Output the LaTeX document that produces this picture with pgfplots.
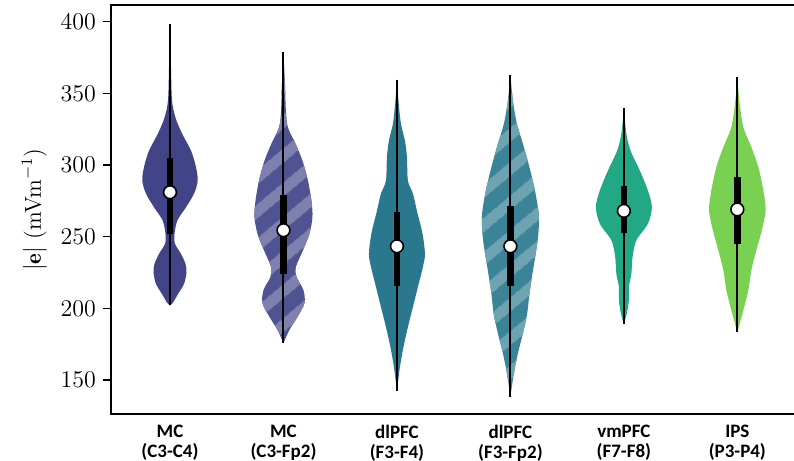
\documentclass[border=0pt]{standalone}
\usepackage{pgfplots}
\pgfplotsset{compat=1.18}
\usepackage{pgfplotstable}
\usetikzlibrary{patterns.meta}
\usepackage{fontspec}
\newfontfamily\carlito{Carlito}

\definecolor{vA}{HTML}{414487}
\definecolor{vB}{HTML}{2A788E}
\definecolor{vC}{HTML}{22A884}
\definecolor{vD}{HTML}{7AD151}

% half-widths w in pixels of the reference (113.46 px per category)
\pgfplotstableread{
y w
202 0
204 3
210 8
217 14
225 16.5
231 15.5
238 11
245 5
252 4.5
261.5 7.5
270.5 16
280 24
289 27.7
298.5 26
310 21
322 12
333 5.5
345 2
368 1
398 0
}\violinA
\pgfplotstableread{
y w
175.7 0
185 6
194 14
203.6 21
212.7 20
222 13
229 12.5
240.5 19.5
252 26
263.7 29
275 28
289 24.5
303 19
315 12
329 3.5
356.6 1.5
378.6 0
}\violinB
\pgfplotstableread{
y w
142.5 0
159 3
173 6.5
187 11
201 16
215 21
229 26
238 28
252.3 25.5
268 20
280 16
289 11
305.5 10
317 8
328.8 4
345 1.5
359.6 0
}\violinC
\pgfplotstableread{
y w
138.4 0
154.6 3.5
168.6 7.5
182.5 12.5
196 16.7
210 19
224 22
238 25.3
252 28
266 28.3
282.3 24.5
298.5 19
314.8 12.5
328.8 6.5
345 2.5
363 0
}\violinD
\pgfplotstableread{
y w
189 0
196.5 3
205.7 5
215 5
224 7.5
236 8.7
247.5 12.5
259 24
270.7 28
282.3 24
296 16
310 6.7
321.8 2.5
339.6 0
}\violinE
\pgfplotstableread{
y w
183.2 0
198.7 6
212.7 11
226.6 14
240.5 19
254.5 24.5
268.4 28.3
282.3 26
298.5 21
312.5 14
326.4 6
345 2
361.7 0
}\violinF

% box statistics: x min q1 med q3 max
\pgfplotstableread{
x min q1 med q3 max
0 202 252 281 305 398
1 175.7 224 254.5 278.8 378.6
2 142.5 215.7 243.3 267 359.6
3 138.4 215.7 243.3 271.4 363
4 189 252.6 268 285 339.6
5 183.2 245 269 291.6 361.7
}\stats

\tikzset{
  hatch/.style={postaction={pattern={Lines[angle=40,distance=13pt,line width=5.5pt]},pattern color=#1}},
}

\begin{document}
\begin{tikzpicture}
\begin{axis}[
  at={(0,0)}, anchor=south west,
  scale only axis,
  width=342.5pt, height=204.5pt,
  xmin=-0.52, xmax=5.517,
  ymin=126.3, ymax=411.6,
  axis line style={line width=0.8pt},
  ytick={150,200,250,300,350,400},
  xtick={0,1,2,3,4,5},
  xticklabels={{MC\\(C3-C4)},{MC\\(C3-Fp2)},{dlPFC\\(F3-F4)},{dlPFC\\(F3-Fp2)},{vmPFC\\(F7-F8)},{IPS\\(P3-P4)}},
  x tick label style={align=center, yshift=2pt, font=\carlito\bfseries\fontsize{9.5}{10.2}\selectfont},
  y tick label style={font=\fontsize{11.5}{12}\selectfont},
  tick align=outside,
  tick pos=left,
  major tick length=4pt,
  ytick style={line width=0.7pt, black},
  xtick style={draw=none},
  ylabel={$|\mathbf{e}|$ (mVm$^{-1}$)},
  ylabel style={font=\fontsize{11.5}{12}\selectfont},
  clip=false,
]
% violins: right half and left half
\addplot[smooth, draw=none, fill=vA] table[x expr=0+\thisrow{w}/113.46, y=y]{\violinA} -- cycle;
\addplot[smooth, draw=none, fill=vA] table[x expr=0-\thisrow{w}/113.46, y=y]{\violinA} -- cycle;

\addplot[smooth, draw=none, fill=vA!92!white, hatch=vA!68!white] table[x expr=1+\thisrow{w}/113.46, y=y]{\violinB} -- cycle;
\addplot[smooth, draw=none, fill=vA!92!white, hatch=vA!68!white] table[x expr=1-\thisrow{w}/113.46, y=y]{\violinB} -- cycle;

\addplot[smooth, draw=none, fill=vB] table[x expr=2+\thisrow{w}/113.46, y=y]{\violinC} -- cycle;
\addplot[smooth, draw=none, fill=vB] table[x expr=2-\thisrow{w}/113.46, y=y]{\violinC} -- cycle;

\addplot[smooth, draw=none, fill=vB!92!white, hatch=vB!68!white] table[x expr=3+\thisrow{w}/113.46, y=y]{\violinD} -- cycle;
\addplot[smooth, draw=none, fill=vB!92!white, hatch=vB!68!white] table[x expr=3-\thisrow{w}/113.46, y=y]{\violinD} -- cycle;

\addplot[smooth, draw=none, fill=vC] table[x expr=4+\thisrow{w}/113.46, y=y]{\violinE} -- cycle;
\addplot[smooth, draw=none, fill=vC] table[x expr=4-\thisrow{w}/113.46, y=y]{\violinE} -- cycle;

\addplot[smooth, draw=none, fill=vD] table[x expr=5+\thisrow{w}/113.46, y=y]{\violinF} -- cycle;
\addplot[smooth, draw=none, fill=vD] table[x expr=5-\thisrow{w}/113.46, y=y]{\violinF} -- cycle;

% whiskers (min to max)
\addplot[draw=none, mark=none, forget plot,
  error bars/.cd, y dir=both, y explicit, error mark=none,
  error bar style={black, line width=1pt}]
  table[x=x, y=med, y error plus expr=\thisrow{max}-\thisrow{med}, y error minus expr=\thisrow{med}-\thisrow{min}]{\stats};
% boxes (q1 to q3)
\addplot[draw=none, mark=none, forget plot,
  error bars/.cd, y dir=both, y explicit, error mark=none,
  error bar style={black, line width=3.2pt}]
  table[x=x, y=med, y error plus expr=\thisrow{q3}-\thisrow{med}, y error minus expr=\thisrow{med}-\thisrow{q1}]{\stats};
% medians
\addplot[only marks, mark=*, mark size=3.2pt, mark options={fill=white, draw=black, line width=0.8pt}, forget plot]
  table[x=x, y=med]{\stats};
\end{axis}
\pgfresetboundingbox
\path[use as bounding box] (-55.5pt,-23.5pt) rectangle (341.5pt,207pt);
\end{tikzpicture}
\end{document}
